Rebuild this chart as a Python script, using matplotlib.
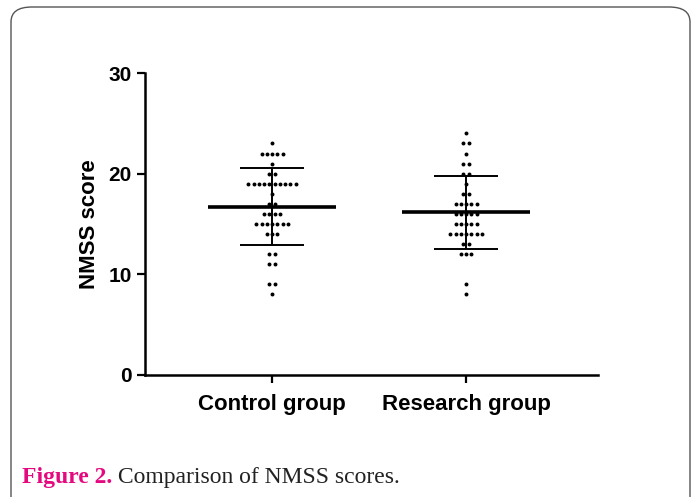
import numpy as np
import matplotlib
matplotlib.use("Agg")
import matplotlib.pyplot as plt
from matplotlib.patches import FancyBboxPatch

plt.rcParams["font.family"] = ["Liberation Sans", "DejaVu Sans"]

# data: score value -> number of patients at that value
groups = ["Control group", "Research group"]
control_scores = [23, 22, 21, 20, 19, 18, 17, 16, 15, 14, 12, 11, 9, 8]
control_counts = [1, 5, 1, 2, 10, 1, 2, 4, 7, 3, 2, 2, 2, 1]
research_scores = [24, 23, 22, 21, 20, 19, 18, 17, 16, 15, 14, 13, 12, 9, 8]
research_counts = [1, 2, 1, 2, 2, 1, 2, 5, 5, 5, 7, 2, 3, 1, 1]

yticks = [0, 10, 20, 30]

fig = plt.figure(figsize=(6.99, 4.97), dpi=100)
ax = fig.add_axes([0.2074, 0.2455, 0.6481, 0.6076])

spacing = 0.027
for i, (scores, counts) in enumerate([(control_scores, control_counts),
                                      (research_scores, research_counts)]):
    vals = np.repeat(scores, counts)
    xs = []
    for s, n in zip(scores, counts):
        xs.extend(i + (np.arange(n) - (n - 1) / 2) * spacing)
    ax.scatter(xs, vals, s=8, color="black", zorder=3, linewidths=0)

    mean = vals.mean()
    sd = vals.std(ddof=1)
    ax.hlines(mean, i - 0.33, i + 0.33, color="black", lw=2.6, zorder=4)
    ax.hlines([mean - sd, mean + sd], i - 0.165, i + 0.165, color="black", lw=1.4, zorder=4)
    ax.vlines(i, mean - sd, mean + sd, color="black", lw=1.4, zorder=4)

ax.set_xlim(-0.655, 1.68)
ax.set_ylim(0, 30)
ax.set_yticks(yticks)
ax.set_xticks([0, 1])
ax.set_xticklabels(groups, fontsize=16, fontweight="bold")
ax.tick_params(axis="y", labelsize=15, width=1.6, length=6)
ax.tick_params(axis="x", width=1.6, length=6, pad=8)
for lab in ax.get_yticklabels():
    lab.set_fontweight("bold")
ax.set_ylabel("NMSS score", fontsize=16, fontweight="bold", labelpad=6)

for side in ["top", "right"]:
    ax.spines[side].set_visible(False)
for side in ["left", "bottom"]:
    ax.spines[side].set_linewidth(1.8)

# rounded frame and caption
frame = FancyBboxPatch((11 / 699, -0.05), 679 / 699, 1 - 7 / 497 + 0.05,
                       boxstyle="round,pad=0,rounding_size=0.03",
                       transform=fig.transFigure, fill=False,
                       edgecolor="#555555", lw=1.0, clip_on=False)
fig.patches.append(frame)

cap_y = 1 - 478 / 497
cap1 = fig.text(22 / 699, cap_y, "Figure 2.", color="#e5097f", fontsize=17,
                fontweight="bold", family=["Liberation Serif"], va="center")
fig.canvas.draw()
bb = cap1.get_window_extent()
fig.text(bb.x1 / fig.bbox.width, cap_y, " Comparison of NMSS scores.", color="#222222",
         fontsize=17, family=["Liberation Serif"], va="center")

fig.savefig("out.png", dpi=100)
